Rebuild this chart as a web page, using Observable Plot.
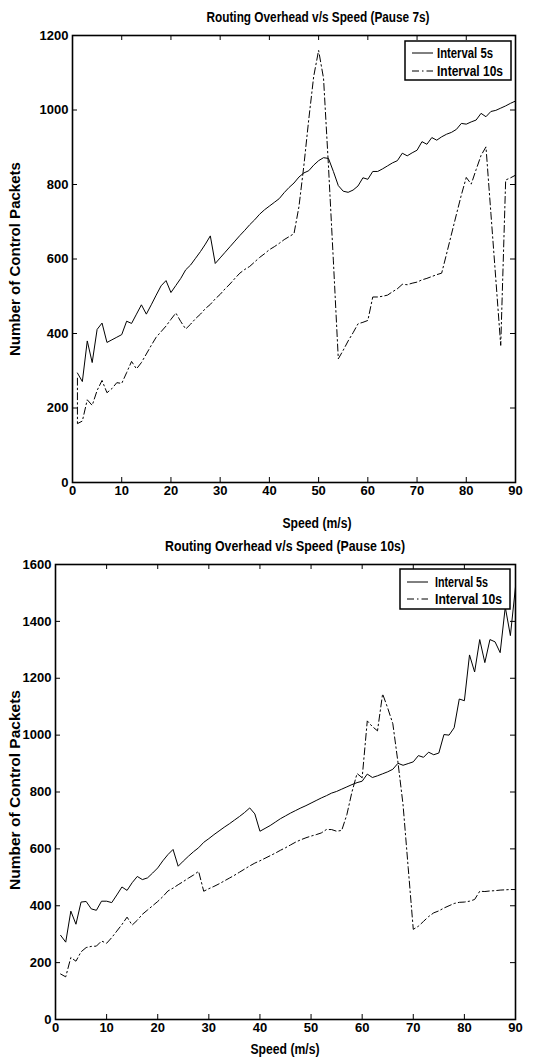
<!DOCTYPE html>
<html>
<head>
<meta charset="utf-8">
<script src="https://cdn.jsdelivr.net/npm/d3@7"></script>
<script src="https://cdn.jsdelivr.net/npm/@observablehq/plot@0.6"></script>
<style>
  body { margin: 0; background: #fff; }
  #chart { width: 548px; }
  #chart svg { display: block; }
</style>
</head>
<body>
<div id="chart"></div>
<script>
// Speeds simulated (m/s), one run per integer speed
const speeds = Array.from({length: 90}, (_, i) => i + 1);
const xTicks = [0, 10, 20, 30, 40, 50, 60, 70, 80, 90];
const yTicksPause7 = [0, 200, 400, 600, 800, 1000, 1200];
const yTicksPause10 = [0, 200, 400, 600, 800, 1000, 1200, 1400, 1600];
const seriesNames = ["Interval 5s", "Interval 10s"];

// Pause 7 s — control packets per speed
const pause7Interval5 = [
  294, 271, 380, 322, 411, 428, 376, 383, 390, 397,
  433, 427, 452, 477, 452, 477, 503, 528, 542, 510,
  529, 548, 571, 584, 602, 620, 640, 662, 588, 603,
  618, 633, 648, 663, 677, 692, 705, 720, 732, 742,
  752, 762, 778, 792, 804, 820, 831, 837, 852, 864,
  872, 870, 835, 797, 782, 779, 785, 796, 818, 814,
  835, 835, 842, 850, 858, 864, 884, 877, 885, 892,
  915, 908, 926, 919, 928, 935, 940, 948, 964, 962,
  968, 973, 991, 982, 996, 999, 1005, 1011, 1018, 1024
];
const pause7Interval10Lead = [{speed: 1, value: 280}];
const pause7Interval10 = [
  158, 165, 222, 207, 247, 274, 241, 252, 268, 266,
  295, 325, 305, 322, 345, 368, 390, 405, 420, 438,
  455, 432, 412, 425, 440, 452, 467, 478, 493, 505,
  520, 533, 548, 562, 572, 580, 592, 604, 614, 625,
  633, 642, 652, 660, 668, 740, 850, 975, 1090, 1160,
  1085, 850, 595, 332, 355, 380, 402, 426, 430, 435,
  498, 498, 500, 503, 512, 520, 532, 531, 535, 538,
  544, 548, 553, 558, 562, 614, 667, 720, 772, 819,
  801, 840, 878, 901, 723, 546, 368, 812, 818, 825
];

// Pause 10 s — control packets per speed
const pause10Interval5 = [
  296, 272, 381, 335, 413, 415, 389, 384, 416, 416,
  411, 438, 466, 454, 481, 503, 492, 498, 515, 533,
  558, 580, 598, 539, 557, 574, 590, 604, 623, 636,
  650, 663, 676, 688, 701, 714, 728, 744, 723, 662,
  672, 682, 694, 706, 716, 726, 735, 744, 752, 761,
  770, 779, 787, 796, 802, 810, 818, 826, 833, 838,
  863, 851, 857, 864, 871, 880, 901, 894, 900, 906,
  928, 922, 940, 931, 937, 1002, 1000, 1026, 1127, 1121,
  1282, 1222, 1336, 1255, 1336, 1328, 1290, 1450, 1350, 1521
];
const pause10Interval10 = [
  160, 150, 218, 205, 238, 253, 257, 258, 276, 268,
  288, 311, 334, 360, 332, 349, 370, 385, 400, 415,
  432, 452, 462, 474, 485, 497, 508, 521, 451, 460,
  468, 477, 487, 497, 507, 518, 529, 540, 550, 558,
  567, 576, 585, 595, 604, 614, 624, 632, 639, 645,
  650, 656, 668, 668, 662, 665, 720, 800, 865, 850,
  1050, 1030, 1015, 1145, 1095, 1040, 905, 755, 535, 317,
  328, 345, 362, 375, 382, 392, 400, 408, 412, 413,
  416, 422, 451, 450, 452, 453, 455, 456, 457, 457
];

const FONT = '"Liberation Sans", Arial, Helvetica, sans-serif';
const DASHDOT = "7,3,1.5,3";

function panel(cfg) {
  const {height, margin, yDomain, yTicks, int5, int10, lead10 = [], title, titlePos, xlabelPos, ylabelPos, legend} = cfg;
  const width = 548;
  const fw = width - margin.left - margin.right;
  const fh = height - margin.top - margin.bottom;
  const rows5 = speeds.map((s, i) => ({speed: s, value: int5[i]}));
  const rows10 = lead10.concat(speeds.map((s, i) => ({speed: s, value: int10[i]})));

  const svg = Plot.plot({
    width, height,
    marginTop: margin.top, marginRight: margin.right,
    marginBottom: margin.bottom, marginLeft: margin.left,
    x: {domain: [0, 90], label: null},
    y: {domain: yDomain, label: null},
    style: {fontFamily: FONT, fontSize: "13px", fontWeight: "bold", color: "#000", background: "#fff", overflow: "visible"},
    marks: [
      Plot.line(rows5, {x: "speed", y: "value", stroke: "#000", strokeWidth: 1}),
      Plot.line(rows10, {x: "speed", y: "value", stroke: "#000", strokeWidth: 1, strokeDasharray: DASHDOT}),
      // inward ticks on all four sides of the box
      Plot.tickX(xTicks, {x: d => d, insetTop: fh - 5, stroke: "#000"}),
      Plot.tickX(xTicks, {x: d => d, insetBottom: fh - 5, stroke: "#000"}),
      Plot.tickY(yTicks, {y: d => d, insetRight: fw - 5, stroke: "#000"}),
      Plot.tickY(yTicks, {y: d => d, insetLeft: fw - 5, stroke: "#000"}),
      Plot.axisX(xTicks, {tickSize: 0, tickPadding: 3, label: null, tickFormat: d => `${d}`}),
      Plot.axisY(yTicks, {tickSize: 0, tickPadding: 4, label: null, tickFormat: d => `${d}`}),
      Plot.frame({stroke: "#000", strokeWidth: 1.6})
    ]
  });

  const s = d3.select(svg);
  const addText = (txt, x, y, len, opts = {}) => s.append("text")
    .attr("x", x).attr("y", y)
    .attr("text-anchor", opts.anchor || "middle")
    .attr("dominant-baseline", "central")
    .attr("font-family", FONT)
    .attr("font-size", opts.size || 14)
    .attr("font-weight", "bold")
    .attr("fill", "#000")
    .attr("textLength", len)
    .attr("lengthAdjust", "spacingAndGlyphs")
    .attr("transform", opts.rotate ? `rotate(-90 ${x} ${y})` : null)
    .text(txt);

  addText(title, titlePos[0], titlePos[1], titlePos[2]);
  addText("Speed (m/s)", xlabelPos[0], xlabelPos[1], 69);
  addText("Number of Control Packets", ylabelPos[0], ylabelPos[1], ylabelPos[2], {size: 14, rotate: true});

  // legend box
  const g = s.append("g");
  g.append("rect")
    .attr("x", legend.x).attr("y", legend.y)
    .attr("width", legend.w).attr("height", legend.h)
    .attr("fill", "#fff").attr("stroke", "#000").attr("stroke-width", 1.5);
  seriesNames.forEach((name, i) => {
    const y = legend.rows[i];
    g.append("line")
      .attr("x1", legend.lx[0]).attr("x2", legend.lx[1])
      .attr("y1", y).attr("y2", y)
      .attr("stroke", "#000").attr("stroke-width", 1)
      .attr("stroke-dasharray", i === 0 ? null : DASHDOT);
    g.append("text")
      .attr("x", legend.tx).attr("y", y)
      .attr("text-anchor", "start")
      .attr("dominant-baseline", "central")
      .attr("font-family", FONT).attr("font-size", 14).attr("font-weight", "bold")
      .attr("fill", "#000")
      .attr("textLength", legend.len[i])
      .attr("lengthAdjust", "spacingAndGlyphs")
      .text(name);
  });
  return svg;
}

const chart = document.getElementById("chart");

chart.appendChild(panel({
  height: 528,
  margin: {top: 35, right: 33, bottom: 46, left: 72},
  yDomain: [0, 1200], yTicks: yTicksPause7,
  int5: pause7Interval5, int10: pause7Interval10, lead10: pause7Interval10Lead,
  title: "Routing Overhead v/s Speed (Pause 7s)",
  titlePos: [318, 17, 223], xlabelPos: [317, 523], ylabelPos: [15, 259, 194],
  legend: {x: 405, y: 41, w: 106, h: 39, rows: [53, 71], lx: [412, 433], tx: 437, len: [56, 66]}
}));

chart.appendChild(panel({
  height: 529,
  margin: {top: 36, right: 33, bottom: 38, left: 55},
  yDomain: [0, 1600], yTicks: yTicksPause10,
  int5: pause10Interval5, int10: pause10Interval10,
  title: "Routing Overhead v/s Speed (Pause 10s)",
  titlePos: [285, 18, 240], xlabelPos: [285, 521], ylabelPos: [15, 262, 200],
  legend: {x: 400, y: 41, w: 110, h: 40, rows: [54, 71], lx: [407, 428], tx: 435, len: [53, 67]}
}));
</script>
</body>
</html>
